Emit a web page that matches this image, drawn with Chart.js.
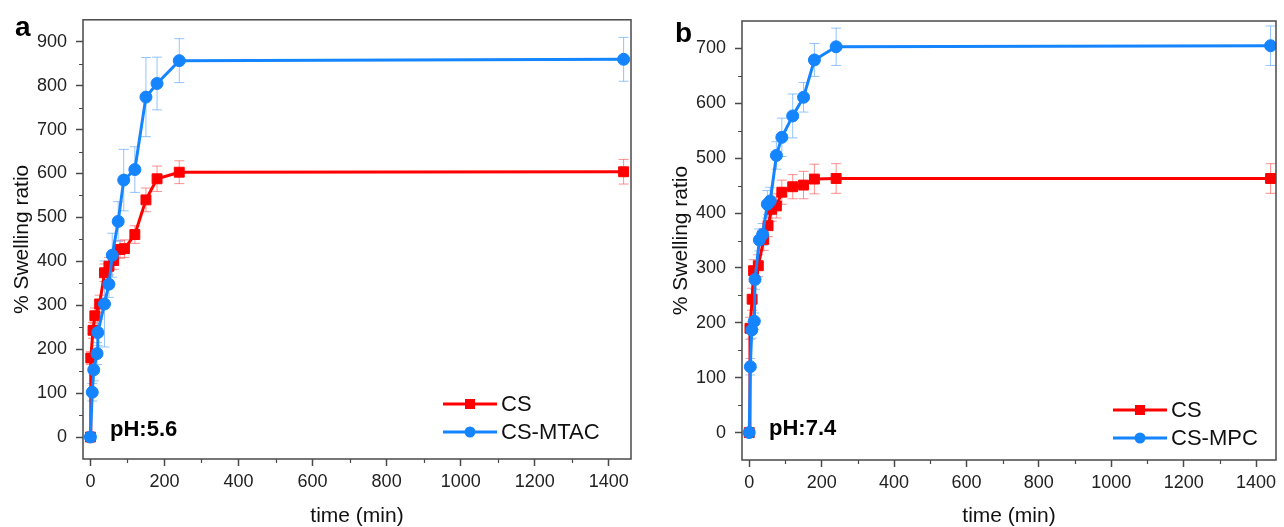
<!DOCTYPE html>
<html>
<head>
<meta charset="utf-8">
<script src="https://cdn.jsdelivr.net/npm/chart.js@4/dist/chart.umd.min.js"></script>
<style>
  body { margin: 0; background: #fff; }
  canvas { position: absolute; top: 0; }
  #chartA { left: 0; }
  #chartB { left: 659px; }
</style>
</head>
<body>
<canvas id="chartA" width="659" height="527"></canvas>
<canvas id="chartB" width="625" height="527"></canvas>
<script>
// panel a (pH 5.6)
const timeA_CS = [0, 1, 7, 12, 25, 38, 50, 63, 80, 92, 120, 150, 180, 240, 1440];
const swellA_CS = [0, 180, 243, 276, 303, 374, 389, 402, 427, 429, 461, 540, 588, 603, 604];
const errA_CS = [0, 15, 18, 18, 20, 20, 20, 20, 20, 20, 20, 27, 29, 26, 28];
const timeA_MTAC = [0, 5, 9, 18, 20, 38, 50, 59, 75, 90, 120, 150, 180, 240, 1440];
const swellA_MTAC = [0, 102, 153, 190, 238, 303, 348, 414, 491, 585, 609, 774, 805, 857, 860];
const errA_MTAC = [0, 20, 25, 25, 30, 98, 30, 50, 45, 70, 52, 90, 60, 50, 50];

// panel b (pH 7.4)
const timeB_CS = [0, 2, 8, 12, 25, 40, 52, 62, 75, 90, 120, 150, 180, 240, 1440];
const swellB_CS = [0, 190, 243, 295, 304, 352, 377, 407, 413, 438, 448, 451, 462, 463, 463];
const errB_CS = [0, 20, 20, 20, 20, 20, 20, 22, 22, 22, 22, 25, 27, 27, 27];
const timeB_MPC = [0, 3, 7, 14, 16, 28, 37, 50, 58, 75, 90, 120, 150, 180, 240, 1440];
const swellB_MPC = [0, 120, 187, 203, 279, 351, 361, 416, 422, 505, 538, 577, 611, 679, 703, 705];
const errB_MPC = [0, 15, 15, 15, 18, 20, 20, 25, 25, 25, 35, 40, 27, 30, 34, 36];

// tick values
const ticksX = [0, 200, 400, 600, 800, 1000, 1200, 1400];
const ticksYA = [0, 100, 200, 300, 400, 500, 600, 700, 800, 900];
const ticksYB = [0, 100, 200, 300, 400, 500, 600, 700];
const minorX = [100, 300, 500, 700, 900, 1100, 1300];
const minorYA = [50, 150, 250, 350, 450, 550, 650, 750, 850];
const minorYB = [50, 150, 250, 350, 450, 550, 650];

const FONT = "'Liberation Sans', Arial, sans-serif";
const RED = '#ff0000';
const BLUE = '#1584ff';
const AXIS = '#4a4a4a';

const toPoints = (xs, ys) => xs.map((x, i) => ({x: x, y: ys[i]}));

const extras = {
  id: 'extras',
  beforeDatasetsDraw(chart, args, opts) {
    // error bars, under the lines
    const ctx = chart.ctx;
    const xs = chart.scales.x, ys = chart.scales.y;
    chart.data.datasets.forEach(ds => {
      ctx.save();
      ctx.strokeStyle = ds.errColor;
      ctx.lineWidth = 1;
      ds.data.forEach((p, j) => {
        const e = ds.errors[j];
        if (!e) return;
        const px = xs.getPixelForValue(p.x);
        const top = ys.getPixelForValue(p.y + e);
        const bot = ys.getPixelForValue(p.y - e);
        ctx.beginPath();
        ctx.moveTo(px, top); ctx.lineTo(px, bot);
        ctx.moveTo(px - 5, top); ctx.lineTo(px + 5, top);
        ctx.moveTo(px - 5, bot); ctx.lineTo(px + 5, bot);
        ctx.stroke();
      });
      ctx.restore();
    });
  },
  afterDraw(chart, args, opts) {
    const ctx = chart.ctx;
    const a = chart.chartArea;
    const xs = chart.scales.x, ys = chart.scales.y;
    ctx.save();
    // frame
    ctx.strokeStyle = AXIS;
    ctx.lineWidth = 1.5;
    ctx.strokeRect(a.left, a.top, a.right - a.left, a.bottom - a.top);
    // minor ticks
    ctx.beginPath();
    opts.minorX.forEach(v => {
      const px = Math.round(xs.getPixelForValue(v)) + 0.5;
      ctx.moveTo(px, a.bottom); ctx.lineTo(px, a.bottom + 4);
    });
    opts.minorY.forEach(v => {
      const py = Math.round(ys.getPixelForValue(v)) + 0.5;
      ctx.moveTo(a.left, py); ctx.lineTo(a.left - 4, py);
    });
    ctx.lineWidth = 1.2;
    ctx.stroke();

    // panel letter
    ctx.fillStyle = '#000';
    ctx.font = 'bold 28px ' + FONT;
    ctx.textAlign = 'left';
    ctx.textBaseline = 'alphabetic';
    ctx.fillText(opts.letter, opts.letterX, opts.letterY);

    // pH label
    ctx.font = 'bold 22px ' + FONT;
    ctx.fillText(opts.ph, opts.phX, opts.phY);

    // legend
    const lx = a.right - opts.legendRight;
    ctx.font = '22px ' + FONT;
    ctx.textBaseline = 'middle';
    opts.legendOrder.forEach((di, k) => {
      const ds = chart.data.datasets[di];
      const y = opts.legendY + k * 28;
      ctx.strokeStyle = ds.borderColor;
      ctx.lineWidth = 3;
      ctx.beginPath();
      ctx.moveTo(lx, y); ctx.lineTo(lx + 54, y);
      ctx.stroke();
      ctx.fillStyle = ds.borderColor;
      if (ds.pointStyle === 'rect') {
        ctx.fillRect(lx + 27 - 5, y - 5, 10, 10);
      } else {
        ctx.beginPath();
        ctx.arc(lx + 27, y, 5.5, 0, Math.PI * 2);
        ctx.fill();
      }
      ctx.fillStyle = '#111';
      ctx.fillText(ds.label, lx + 58, y + 1);
    });
    ctx.restore();
  }
};

const makeDataset = (label, xs, ys, errs, color, errColor, style, order) => ({
  label: label,
  data: toPoints(xs, ys),
  errors: errs,
  errColor: errColor,
  borderColor: color,
  backgroundColor: color,
  borderWidth: 3,
  pointStyle: style,
  pointRadius: style === 'rect' ? 7 : 6,
  pointBorderWidth: 1,
  tension: 0,
  order: order
});

const makeChart = (id, cfg) => {
  const tickFont = {family: FONT, size: 18};
  return new Chart(document.getElementById(id), {
    type: 'line',
    data: {datasets: cfg.datasets},
    options: {
      responsive: false,
      animation: false,
      layout: {padding: {top: cfg.padTop, right: cfg.padRight, left: 0, bottom: 0}},
      plugins: {
        legend: {display: false},
        tooltip: {enabled: false},
        extras: cfg.extras
      },
      scales: {
        x: {
          type: 'linear',
          min: -20,
          max: cfg.xMax,
          afterBuildTicks: (scale) => { scale.ticks = ticksX.map(v => ({value: v})); },
          afterFit: (scale) => { scale.height = cfg.xHeight; },
          border: {display: false},
          grid: {drawOnChartArea: false, tickLength: 7, tickColor: AXIS, tickWidth: 1.5},
          ticks: {autoSkip: false, maxRotation: 0, padding: 5, color: '#222', font: tickFont,
            callback: (v) => String(v)},
          title: {display: true, text: 'time (min)', color: '#111',
            font: {family: FONT, size: 21, lineHeight: 1}, padding: {top: 0, bottom: 0}}
        },
        y: {
          min: -50,
          max: cfg.yMax,
          afterBuildTicks: (scale) => { scale.ticks = cfg.ticksY.map(v => ({value: v})); },
          afterFit: (scale) => { scale.width = 83; },
          border: {display: false},
          grid: {drawOnChartArea: false, tickLength: 7, tickColor: AXIS, tickWidth: 1.5},
          ticks: {autoSkip: false, padding: 9, color: '#222', font: tickFont,
            callback: (v) => String(v)},
          title: {display: true, text: '% Swelling ratio', color: '#111',
            font: {family: FONT, size: 21, lineHeight: 1}, padding: {top: 12, bottom: 0}}
        }
      }
    },
    plugins: [extras]
  });
};

makeChart('chartA', {
  padTop: 16, padRight: 28, xHeight: 68, xMax: 1460, yMax: 950, ticksY: ticksYA,
  datasets: [
    makeDataset('CS', timeA_CS, swellA_CS, errA_CS, RED, 'rgba(255,70,70,0.6)', 'rect', 1),
    makeDataset('CS-MTAC', timeA_MTAC, swellA_MTAC, errA_MTAC, BLUE, 'rgba(90,165,255,0.65)', 'circle', 0)
  ],
  extras: {
    letter: 'a', letterX: 15, letterY: 36,
    ph: 'pH:5.6', phX: 110, phY: 436,
    legendRight: 188, legendY: 404, legendOrder: [0, 1],
    minorX: minorX, minorY: minorYA
  }
});

makeChart('chartB', {
  padTop: 21, padRight: 2, xHeight: 67, xMax: 1455, yMax: 750, ticksY: ticksYB,
  datasets: [
    makeDataset('CS', timeB_CS, swellB_CS, errB_CS, RED, 'rgba(255,70,70,0.6)', 'rect', 1),
    makeDataset('CS-MPC', timeB_MPC, swellB_MPC, errB_MPC, BLUE, 'rgba(90,165,255,0.65)', 'circle', 0)
  ],
  extras: {
    letter: 'b', letterX: 16, letterY: 42,
    ph: 'pH:7.4', phX: 110, phY: 435,
    legendRight: 163, legendY: 410, legendOrder: [0, 1],
    minorX: minorX, minorY: minorYB
  }
});
</script>
</body>
</html>
